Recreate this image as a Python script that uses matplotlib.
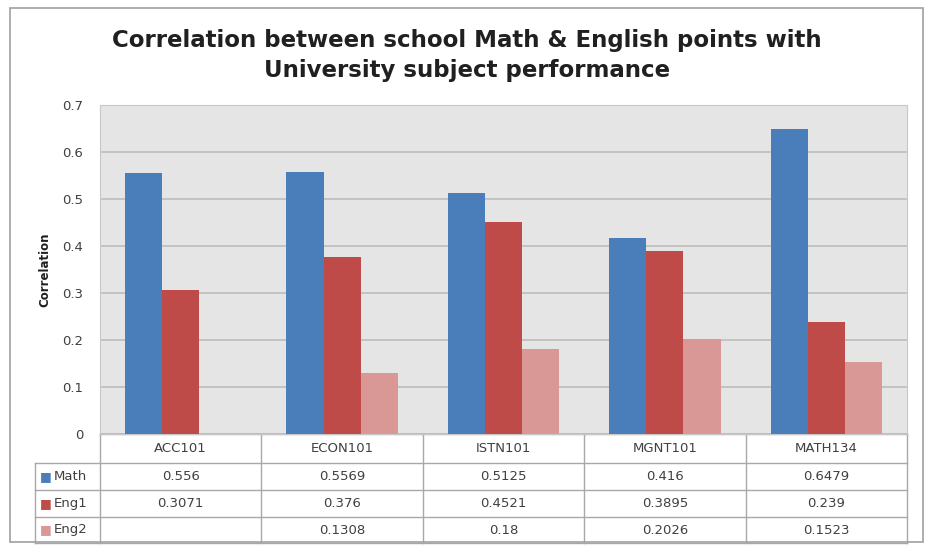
import numpy as np
import matplotlib
matplotlib.use("Agg")
import matplotlib.pyplot as plt
from matplotlib.patches import Rectangle
from matplotlib.lines import Line2D
import matplotlib.transforms as mtransforms

# data
subjects = ["ACC101", "ECON101", "ISTN101", "MGNT101", "MATH134"]
math = [0.556, 0.5569, 0.5125, 0.416, 0.6479]
eng1 = [0.3071, 0.376, 0.4521, 0.3895, 0.239]
eng2 = [np.nan, 0.1308, 0.18, 0.2026, 0.1523]
series_names = ["Math", "Eng1", "Eng2"]
series_colors = ["#4a7ebb", "#be4b48", "#d99795"]

W, H = 928, 548
fig = plt.figure(figsize=(W / 100, H / 100), dpi=100)
fig.patch.set_facecolor("white")

# outer chart frame
fig.add_artist(Rectangle((10 / W, 1 - 542 / H), 913 / W, 534 / H,
                         transform=fig.transFigure, fill=False,
                         edgecolor="#a0a0a0", lw=1.2))

ax = fig.add_axes([100 / W, 1 - 434 / H, 807 / W, 329 / H])
ax.set_facecolor("#e5e5e5")

x = np.arange(len(subjects))
bw = 0.23
for i, (vals, c) in enumerate(zip([math, eng1, eng2], series_colors)):
    ax.bar(x + (i - 1) * bw, vals, width=bw, color=c, zorder=3)

ax.set_xlim(-0.5, len(subjects) - 0.5)
ax.set_ylim(0, 0.7)
ax.set_yticks(np.arange(0, 0.71, 0.1))
ax.set_yticklabels(["0"] + ["%.1f" % v for v in np.arange(0.1, 0.71, 0.1)],
                   fontsize=9.5, color="#404040")
ax.tick_params(axis="y", length=0, pad=12)
ax.set_xticks([])
ax.yaxis.grid(True, color="#bdbdbd", lw=1.2, zorder=0)
for s in ax.spines.values():
    s.set_color("#c8c8c8")
ax.set_ylabel("Correlation", fontsize=8.5, fontweight="bold", color="#202020", labelpad=8)

# data table under the plot
tr = mtransforms.blended_transform_factory(ax.transData, ax.transAxes)
axh = 329.0
rows_px = [437, 463, 490, 517, 543]
rows = [(434 - p) / axh for p in rows_px]
rows[0] = 0
left = -0.5 - 65 / 161.0
right = len(subjects) - 0.5
lc = "#a8a8a8"
for k, yv in enumerate(rows):
    x0 = -0.5 if k == 0 else left
    ax.add_line(Line2D([x0, right], [yv, yv], transform=tr, color=lc, lw=1, clip_on=False))
for xb in np.arange(-0.5, len(subjects), 1.0):
    ax.add_line(Line2D([xb, xb], [rows[0], rows[-1]], transform=tr, color=lc, lw=1, clip_on=False))
ax.add_line(Line2D([left, left], [rows[1], rows[-1]], transform=tr, color=lc, lw=1, clip_on=False))

tc = "#404040"
for j, name in enumerate(subjects):
    ax.text(j, (rows[0] + rows[1]) / 2, name, transform=tr, ha="center", va="center",
            fontsize=9.5, color=tc)
for i, (vals, nm, c) in enumerate(zip([math, eng1, eng2], series_names, series_colors)):
    yc = (rows[i + 1] + rows[i + 2]) / 2
    for j, v in enumerate(vals):
        if not np.isnan(v):
            ax.text(j, yc, "%g" % v, transform=tr, ha="center", va="center",
                    fontsize=9.5, color=tc)
    ax.text(left + 0.03, yc, "\u25a0", transform=tr, ha="left", va="center",
            fontsize=9, color=c)
    ax.text(left + 0.115, yc, nm, transform=tr, ha="left", va="center",
            fontsize=9.5, color=tc)

title_font = ["Liberation Sans Narrow", "DejaVu Sans"]
fig.text(467 / W, 1 - 40 / H, "Correlation between school Math & English points with",
         ha="center", va="center", fontsize=16.5, fontweight="bold", color="#202020",
         family=title_font)
fig.text(467 / W, 1 - 71 / H, "University subject performance",
         ha="center", va="center", fontsize=16.5, fontweight="bold", color="#202020",
         family=title_font)

fig.savefig("out.png", dpi=100)
